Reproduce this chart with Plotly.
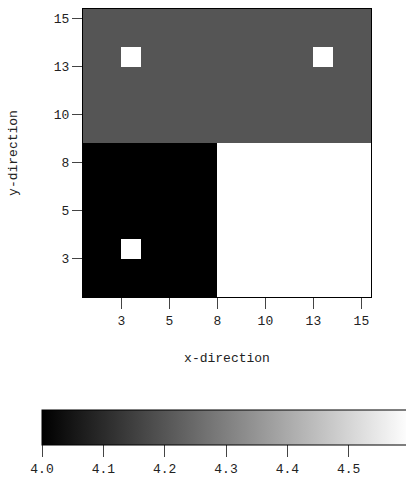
import plotly.graph_objects as go

x_cells = list(range(1, 16))
y_cells = list(range(1, 16))

# rows from y=1 (bottom) to y=15 (top)
z_values = [
    [4.0, 4.0, 4.0, 4.0, 4.0, 4.0, 4.0, 4.6, 4.6, 4.6, 4.6, 4.6, 4.6, 4.6, 4.6],
    [4.0, 4.0, 4.0, 4.0, 4.0, 4.0, 4.0, 4.6, 4.6, 4.6, 4.6, 4.6, 4.6, 4.6, 4.6],
    [4.0, 4.0, 4.6, 4.0, 4.0, 4.0, 4.0, 4.6, 4.6, 4.6, 4.6, 4.6, 4.6, 4.6, 4.6],
    [4.0, 4.0, 4.0, 4.0, 4.0, 4.0, 4.0, 4.6, 4.6, 4.6, 4.6, 4.6, 4.6, 4.6, 4.6],
    [4.0, 4.0, 4.0, 4.0, 4.0, 4.0, 4.0, 4.6, 4.6, 4.6, 4.6, 4.6, 4.6, 4.6, 4.6],
    [4.0, 4.0, 4.0, 4.0, 4.0, 4.0, 4.0, 4.6, 4.6, 4.6, 4.6, 4.6, 4.6, 4.6, 4.6],
    [4.0, 4.0, 4.0, 4.0, 4.0, 4.0, 4.0, 4.6, 4.6, 4.6, 4.6, 4.6, 4.6, 4.6, 4.6],
    [4.0, 4.0, 4.0, 4.0, 4.0, 4.0, 4.0, 4.6, 4.6, 4.6, 4.6, 4.6, 4.6, 4.6, 4.6],
    [4.2, 4.2, 4.2, 4.2, 4.2, 4.2, 4.2, 4.2, 4.2, 4.2, 4.2, 4.2, 4.2, 4.2, 4.2],
    [4.2, 4.2, 4.2, 4.2, 4.2, 4.2, 4.2, 4.2, 4.2, 4.2, 4.2, 4.2, 4.2, 4.2, 4.2],
    [4.2, 4.2, 4.2, 4.2, 4.2, 4.2, 4.2, 4.2, 4.2, 4.2, 4.2, 4.2, 4.2, 4.2, 4.2],
    [4.2, 4.2, 4.2, 4.2, 4.2, 4.2, 4.2, 4.2, 4.2, 4.2, 4.2, 4.2, 4.2, 4.2, 4.2],
    [4.2, 4.2, 4.6, 4.2, 4.2, 4.2, 4.2, 4.2, 4.2, 4.2, 4.2, 4.2, 4.6, 4.2, 4.2],
    [4.2, 4.2, 4.2, 4.2, 4.2, 4.2, 4.2, 4.2, 4.2, 4.2, 4.2, 4.2, 4.2, 4.2, 4.2],
    [4.2, 4.2, 4.2, 4.2, 4.2, 4.2, 4.2, 4.2, 4.2, 4.2, 4.2, 4.2, 4.2, 4.2, 4.2],
]

axis_tickvals = [2.5, 5, 7.5, 10, 12.5, 15]
axis_ticktext = ["3", "5", "8", "10", "13", "15"]
cbar_tickvals = [4.0, 4.1, 4.2, 4.3, 4.4, 4.5]
cbar_ticktext = ["4.0", "4.1", "4.2", "4.3", "4.4", "4.5"]
z_min, z_max = 4.0, 4.6

FONT = "Liberation Mono"
W, H = 406, 483
ML, MR, MT, MB = 83, 35, 9, 186
PW = W - ML - MR
PH = H - MT - MB

fig = go.Figure(go.Heatmap(
    x=x_cells, y=y_cells, z=z_values,
    zmin=z_min, zmax=z_max,
    colorscale=[[0, "#000000"], [1, "#ffffff"]],
    colorbar=dict(
        orientation="h",
        x=(42 - ML) / PW, xanchor="left",
        y=-(410 - (H - MB)) / PH, yanchor="top",
        lenmode="pixels", len=368,
        thicknessmode="pixels", thickness=35,
        xpad=0, ypad=0,
        outlinecolor="#000000", outlinewidth=1,
        tickmode="array", tickvals=cbar_tickvals, ticktext=cbar_ticktext,
        ticks="outside", ticklen=12, tickcolor="#444444", tickwidth=1,
        tickfont=dict(family=FONT, size=13, color="#222222"),
    ),
))

axis_common = dict(
    tickmode="array", tickvals=axis_tickvals, ticktext=axis_ticktext,
    ticks="outside", tickcolor="#444444", tickwidth=1,
    showline=True, linecolor="#000000", linewidth=1, mirror=True,
    showgrid=False, zeroline=False,
    tickfont=dict(family=FONT, size=13, color="#222222"),
    range=[0.5, 15.5],
)

fig.update_xaxes(**axis_common, ticklen=11,
                 title=dict(text="x-direction", standoff=25,
                            font=dict(family=FONT, size=13, color="#222222")))
fig.update_yaxes(**axis_common, ticklen=10,
                 title=dict(text="y-direction", standoff=33,
                            font=dict(family=FONT, size=13, color="#222222")))

fig.update_layout(
    width=W, height=H,
    margin=dict(l=ML, r=MR, t=MT, b=MB, autoexpand=False),
    paper_bgcolor="#ffffff", plot_bgcolor="#ffffff",
)

fig.write_html("out.html")
